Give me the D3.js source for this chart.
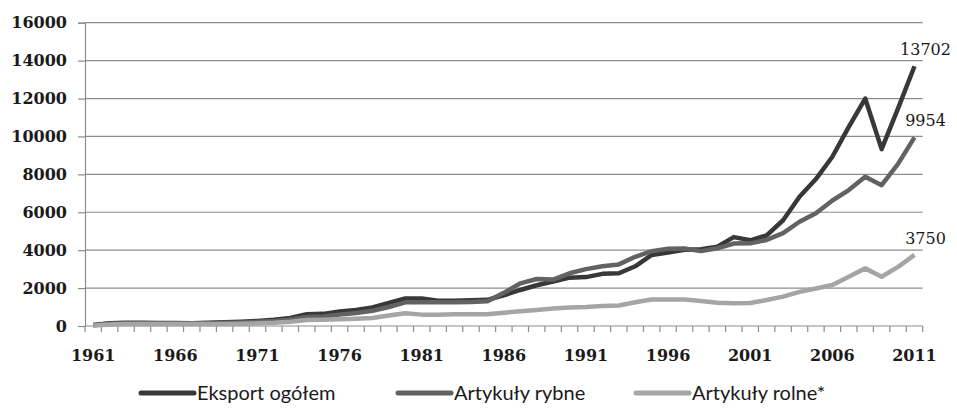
<!DOCTYPE html>
<html>
<head>
    <title>Eksport</title>
    <script src="https://cdnjs.cloudflare.com/ajax/libs/d3/7.8.5/d3.min.js"></script>
    <style>
        body {
            margin: 0;
            background-color: white;
        }
        #chart {
            width: 957px;
            height: 415px;
        }
    </style>
</head>
<body>
    <div id="chart"></div>

    <script>
        // Years 1961-2011
        const years = d3.range(1961, 2012);
        const yearLabels = [1961, 1966, 1971, 1976, 1981, 1986, 1991, 1996, 2001, 2006, 2011];
        const yTicks = [0, 2000, 4000, 6000, 8000, 10000, 12000, 14000, 16000];

        const seriesNames = ['Eksport ogółem', 'Artykuły rybne', 'Artykuły rolne*'];

        const eksport = [50, 150, 170, 170, 160, 160, 150, 170, 200, 230,
            270, 330, 420, 620, 640, 760, 840, 980, 1220, 1450,
            1450, 1330, 1330, 1360, 1380, 1620, 1900, 2150, 2350, 2550,
            2580, 2750, 2780, 3150, 3750, 3880, 4020, 4050, 4180, 4690,
            4520, 4780, 5580, 6820, 7750, 8930, 10500, 12000, 9330, 11480,
            13702];

        const rybne = [40, 120, 140, 140, 140, 140, 140, 150, 170, 190,
            220, 270, 340, 480, 500, 600, 680, 800, 1000, 1250,
            1250, 1250, 1250, 1270, 1300, 1750, 2250, 2480, 2450, 2780,
            3000, 3150, 3250, 3650, 3950, 4080, 4090, 3950, 4100, 4350,
            4360, 4540, 4900, 5500, 5950, 6620, 7170, 7870, 7430, 8550,
            9954];

        const rolne = [30, 80, 100, 100, 100, 100, 100, 100, 110, 120,
            140, 170, 230, 320, 330, 350, 380, 420, 550, 670,
            600, 600, 620, 620, 620, 700, 780, 850, 920, 980,
            1000, 1050, 1080, 1250, 1400, 1400, 1400, 1320, 1230, 1200,
            1210, 1370, 1550, 1800, 1980, 2160, 2600, 3040, 2600, 3120,
            3750];

        const colors = ['#383838', '#626262', '#a5a5a5'];
        const allSeries = [eksport, rybne, rolne];

        const svg = d3.select('#chart')
            .append('svg')
                .attr('width', 957)
                .attr('height', 415);

        const x = d3.scaleBand()
            .domain(years)
            .range([85, 922.7])
            .padding(0);

        const y = d3.scaleLinear()
            .domain([0, 16000])
            .range([326, 22.7]);

        const cx = d => x(d) + x.bandwidth() / 2;

        // Grid lines
        svg.append('g')
            .selectAll('line')
            .data(yTicks.slice(1))
            .join('line')
                .attr('x1', 85)
                .attr('x2', 922.7)
                .attr('y1', d => y(d))
                .attr('y2', d => y(d))
                .attr('stroke', '#8c8c8c')
                .attr('stroke-width', 1.2);

        // Y axis
        const yAxis = svg.append('g')
            .attr('transform', 'translate(85,0)')
            .call(d3.axisLeft(y).tickValues(yTicks).tickSize(7).tickPadding(11).tickFormat(d3.format('d')));
        yAxis.select('.domain').attr('stroke', '#8c8c8c').attr('stroke-width', 1.2);
        yAxis.selectAll('.tick line').attr('stroke', '#8c8c8c').attr('stroke-width', 1.2);
        yAxis.selectAll('.tick text')
            .attr('fill', '#1a1a1a')
            .style('font-family', '"DejaVu Serif", serif')
            .style('font-weight', 'bold')
            .style('font-size', '16px');

        // X axis: ticks between categories
        const xg = svg.append('g');
        xg.append('line')
            .attr('x1', 85).attr('x2', 922.7)
            .attr('y1', 326).attr('y2', 326)
            .attr('stroke', '#8c8c8c')
            .attr('stroke-width', 1.2);
        xg.selectAll('line.tk')
            .data(years.concat([null]))
            .join('line')
                .attr('class', 'tk')
                .attr('x1', (d, i) => x.range()[0] + i * x.bandwidth())
                .attr('x2', (d, i) => x.range()[0] + i * x.bandwidth())
                .attr('y1', 326)
                .attr('y2', 332)
                .attr('stroke', '#8c8c8c')
                .attr('stroke-width', 1.2);
        xg.selectAll('text')
            .data(yearLabels)
            .join('text')
                .attr('x', d => cx(d))
                .attr('y', 361)
                .attr('text-anchor', 'middle')
                .attr('fill', '#1a1a1a')
                .style('font-family', '"DejaVu Serif", serif')
                .style('font-weight', 'bold')
                .style('font-size', '16px')
                .text(d => d);

        // Lines
        const line = d3.line()
            .x((d, i) => cx(years[i]))
            .y(d => y(d));

        allSeries.forEach((s, k) => {
            svg.append('path')
                .datum(s)
                .attr('fill', 'none')
                .attr('stroke', colors[k])
                .attr('stroke-width', 4.5)
                .attr('stroke-linejoin', 'round')
                .attr('d', line);
        });

        // End labels
        const lastYear = years[years.length - 1];
        allSeries.forEach((s, k) => {
            const v = s[s.length - 1];
            svg.append('text')
                .attr('x', cx(lastYear) + 11)
                .attr('y', y(v) - 11)
                .attr('text-anchor', 'middle')
                .attr('fill', '#1a1a1a')
                .style('font-family', '"DejaVu Serif", serif')
                .style('font-size', '16px')
                .text(v);
        });

        // Legend
        const legendX = [141, 398, 636];
        const legend = svg.append('g');
        seriesNames.forEach((name, k) => {
            legend.append('line')
                .attr('x1', legendX[k]).attr('x2', legendX[k] + 53)
                .attr('y1', 393).attr('y2', 393)
                .attr('stroke', colors[k])
                .attr('stroke-width', 5)
                .attr('stroke-linecap', 'round');
            legend.append('text')
                .attr('x', legendX[k] + 56)
                .attr('y', 400)
                .attr('fill', '#1a1a1a')
                .style('font-family', 'Lato, sans-serif')
                .style('font-size', '20px')
                .text(name);
        });
    </script>
</body>
</html>
